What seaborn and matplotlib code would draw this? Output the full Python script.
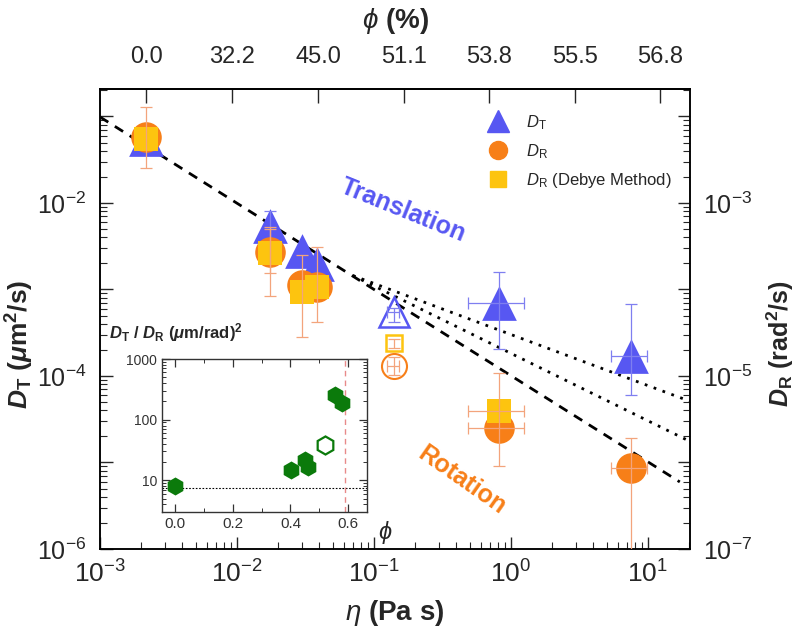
import numpy as np
import matplotlib
matplotlib.use("Agg")
import matplotlib.pyplot as plt
import seaborn as sns
from matplotlib.lines import Line2D
from matplotlib.ticker import LogLocator, NullFormatter, MultipleLocator

# ---- main panel data ----
# viscosity of each filled sample, Pa s (with horizontal error range)
eta = np.array([2.17e-3, 0.0174, 0.0298, 0.0384, 0.816, 7.52])
eta_lo = np.array([2.17e-3, 0.0174, 0.0298, 0.0384, 0.485, 5.37])
eta_hi = np.array([2.17e-3, 0.0174, 0.0298, 0.0384, 1.245, 9.84])

# translational diffusion D_T (um^2/s)
DT = np.array([0.055, 5.4e-3, 2.79e-3, 1.97e-3, 6.98e-4, 1.70e-4])
DT_lo = np.array([0.055, 3.6e-3, 2.79e-3, 1.97e-3, 2.05e-4, 6.0e-5])
DT_hi = np.array([0.055, 8.1e-3, 2.79e-3, 1.97e-3, 1.59e-3, 6.8e-4])

# rotational diffusion D_R (rad^2/s)
DR = np.array([5.8e-3, 2.72e-4, 1.13e-4, 1.07e-4, 2.5e-6, 8.6e-7])
DR_lo = np.array([2.54e-3, 1.55e-4, 1.13e-4, 4.2e-5, 9.1e-7, 1e-8])
DR_hi = np.array([1.29e-2, 5.28e-4, 1.13e-4, 3.10e-4, 1.08e-5, 1.92e-6])

# D_R from the Debye method (no value for the last sample)
DRd = np.array([5.5e-3, 2.64e-4, 9.35e-5, 1.07e-4, 3.9e-6])
DRd_lo = np.array([5.5e-3, 8.4e-5, 2.83e-5, 1.07e-4, 3.9e-6])
DRd_hi = np.array([5.5e-3, 5.0e-4, 2.51e-4, 1.07e-4, 3.9e-6])

# the open (hollow) sample
eta_o, eta_o_lo, eta_o_hi = 0.14, 0.124, 0.152
DT_o, DT_o_lo, DT_o_hi = 5.5e-4, 4.2e-4, 6.1e-4
DRd_o, DRd_o_lo, DRd_o_hi = 2.38e-5, 2.11e-5, 2.68e-5
DR_o, DR_o_lo, DR_o_hi = 1.31e-5, 1.03e-5, 1.66e-5

# Stokes-Einstein line and the two dotted branches
dash_eta = [1e-3, 17.1]
dash_D = [0.0986, 5.96e-6]
dot1_eta = [0.07, 20.3]
dot1_D = [1.45e-3, 5.1e-5]
dot2_eta = [0.07, 20.3]
dot2_D = [1.45e-3, 1.75e-5]

# top axis: volume fraction labels at their viscosities
phi_eta = [2.17e-3, 9.2e-3, 0.039, 0.1656, 0.690, 2.93, 12.2]
phi_labels = ["0.0", "32.2", "45.0", "51.1", "53.8", "55.5", "56.8"]

# ---- inset data ----
phi_in = [0.0, 0.401, 0.449, 0.459, 0.555, 0.578]
ratio_in = [8.2, 15.0, 22.0, 16.6, 254, 185]
phi_in_open = [0.518]
ratio_in_open = [37.9]
ratio_ref = 7.6
phi_rcp = 0.59

blue = "#5757f2"
blue_err = "#7f7ff0"
orange = "#f77f18"
orange_err = "#f3a47c"
yellow = "#fdc40f"
green = "#0b7a0b"

sns.set_theme(style="ticks")
plt.rcParams["font.family"] = ["Liberation Sans", "DejaVu Sans"]
plt.rcParams["mathtext.fontset"] = "custom"
plt.rcParams["mathtext.rm"] = "Liberation Sans"
plt.rcParams["mathtext.it"] = "Liberation Sans:italic"
plt.rcParams["mathtext.bf"] = "Liberation Sans:bold"
plt.rcParams["mathtext.bfit"] = "Liberation Sans:italic:bold"
plt.rcParams["axes.edgecolor"] = "black"
plt.rcParams["axes.linewidth"] = 1.1


def bars(axis, x, y, xlo, xhi, ylo, yhi, color, z):
    x, y = np.asarray(x), np.asarray(y)
    xlo, xhi, ylo, yhi = map(np.asarray, (xlo, xhi, ylo, yhi))
    m = (yhi > y) | (ylo < y)
    if m.any():
        axis.errorbar(x[m], y[m], yerr=[y[m] - ylo[m], yhi[m] - y[m]], fmt="none",
                      ecolor=color, elinewidth=0.9, capsize=4, capthick=0.9, zorder=z)
    m = (xhi > x) | (xlo < x)
    if m.any():
        axis.errorbar(x[m], y[m], xerr=[x[m] - xlo[m], xhi[m] - x[m]], fmt="none",
                      ecolor=color, elinewidth=0.9, capsize=4, capthick=0.9, zorder=z)


fig = plt.figure(figsize=(7.99, 6.27), dpi=100)
ax = fig.add_axes([0.1252, 0.1244, 0.7384, 0.7337])
ax2 = ax.twinx()

ax.set_xscale("log")
ax.set_yscale("log")
ax2.set_yscale("log")
ax.set_xlim(1e-3, 20.3)
ax.set_ylim(1e-6, 0.208)
ax2.set_ylim(1e-7, 0.0208)

# lines
ax.plot(dash_eta, dash_D, color="black", lw=2, dashes=(3.5, 2.8), zorder=2)
ax.plot(dot1_eta, dot1_D, color="black", lw=2, dashes=(1, 2.4), zorder=2)
ax.plot(dot2_eta, dot2_D, color="black", lw=2, dashes=(1, 2.4), zorder=2)

# D_T triangles
sns.scatterplot(x=eta, y=DT, marker="^", s=25 ** 2, color=blue, linewidth=0,
                ax=ax, zorder=3, legend=False)
bars(ax, eta, DT, eta_lo, eta_hi, DT_lo, DT_hi, blue_err, 4)
ax.plot([eta_o], [DT_o], marker="^", ms=21, mfc="none", mec=blue, mew=1.8, ls="none", zorder=3)
bars(ax, [eta_o], [DT_o], [eta_o_lo], [eta_o_hi], [DT_o_lo], [DT_o_hi], blue_err, 4)

# D_R circles and Debye squares
sns.scatterplot(x=eta, y=DR, marker="o", s=22 ** 2, color=orange, linewidth=0,
                ax=ax2, zorder=3, legend=False)
sns.scatterplot(x=eta[:5], y=DRd, marker="s", s=17 ** 2, color=yellow, linewidth=0,
                ax=ax2, zorder=3, legend=False)
bars(ax2, eta, DR, eta_lo, eta_hi, DR_lo, DR_hi, orange_err, 4)
bars(ax2, eta[:5], DRd, eta_lo[:5], eta_hi[:5], DRd_lo, DRd_hi, orange_err, 4)
ax2.plot([eta_o], [DRd_o], marker="s", ms=12, mfc="none", mec=yellow, mew=1.8, ls="none", zorder=3)
ax2.plot([eta_o], [DR_o], marker="o", ms=18, mfc="none", mec=orange, mew=1.5, ls="none", zorder=3)
bars(ax2, [eta_o], [DRd_o], [eta_o], [eta_o], [DRd_o_lo], [DRd_o_hi], orange_err, 4)
bars(ax2, [eta_o], [DR_o], [eta_o_lo], [eta_o_hi], [DR_o_lo], [DR_o_hi], orange_err, 4)

# ticks
ax.set_xticks([1e-3, 1e-2, 1e-1, 1, 10],
              labels=[r"$10^{-3}$", r"$10^{-2}$", r"$10^{-1}$", r"$10^{0}$", r"$10^{1}$"])
ax.xaxis.set_minor_locator(LogLocator(base=10, subs=np.arange(2, 10)))
ax.xaxis.set_minor_formatter(NullFormatter())
ax.set_yticks([1e-6, 1e-5, 1e-4, 1e-3, 1e-2, 1e-1],
              labels=[r"$10^{-6}$", "", r"$10^{-4}$", "", r"$10^{-2}$", ""])
ax.yaxis.set_minor_locator(LogLocator(base=10, subs=np.arange(2, 10)))
ax.yaxis.set_minor_formatter(NullFormatter())
ax2.set_yticks([1e-7, 1e-6, 1e-5, 1e-4, 1e-3, 1e-2],
               labels=[r"$10^{-7}$", "", r"$10^{-5}$", "", r"$10^{-3}$", ""])
ax2.yaxis.set_minor_locator(LogLocator(base=10, subs=np.arange(2, 10)))
ax2.yaxis.set_minor_formatter(NullFormatter())
ax.set_ylim(1e-6, 0.208)
ax2.set_ylim(1e-7, 0.0208)

ax.tick_params(which="both", direction="in", top=False, right=False, labelsize=19)
ax.tick_params(axis="x", which="major", pad=8)
ax.tick_params(axis="y", which="major", labelsize=18, pad=10)
ax2.tick_params(which="both", direction="in", labelsize=18, pad=9)
for a in (ax, ax2):
    a.tick_params(which="major", length=9, width=1)
    a.tick_params(which="minor", length=5, width=0.8)

top = ax.secondary_xaxis("top")
top.set_xticks(phi_eta, labels=phi_labels)
top.minorticks_off()
top.tick_params(which="major", direction="in", length=10, width=1, labelsize=17, pad=15)
top.set_xlabel(r"$\phi$ (%)", fontsize=20, fontweight="bold", labelpad=13)

ax.set_xlabel(r"$\eta$ (Pa s)", fontsize=20, fontweight="bold", labelpad=8)
ax.set_ylabel(r"$\mathbfit{D}_{\mathbf{T}}\ \mathbf{(}\mathbfit{\mu}\mathbf{m}^{\mathbf{2}}\mathbf{/s)}$",
              fontsize=19)
ax.yaxis.set_label_coords(-0.108, 0.446)
ax2.set_ylabel(r"$\mathbfit{D}_{\mathbf{R}}\ \mathbf{(rad}^{\mathbf{2}}\mathbf{/s)}$",
               fontsize=18)
ax2.yaxis.set_label_coords(1.126, 0.446)

ax.text(0.514, 0.737, "Translation", transform=ax.transAxes, rotation=-22,
        color=blue, fontsize=18, fontweight="bold", ha="center", va="center")
ax.text(0.614, 0.15, "Rotation", transform=ax.transAxes, rotation=-35,
        color=orange, fontsize=18, fontweight="bold", ha="center", va="center")

handles = [
    Line2D([], [], marker="^", ms=16, color=blue, ls="none"),
    Line2D([], [], marker="o", ms=13, color=orange, ls="none"),
    Line2D([], [], marker="s", ms=11, color=yellow, ls="none"),
]
labels = [r"$\mathit{D}_\mathrm{T}$", r"$\mathit{D}_\mathrm{R}$", r"$\mathit{D}_\mathrm{R}$ (Debye Method)"]
ax2.legend(handles, labels, loc="upper left", bbox_to_anchor=(0.635, 0.962), frameon=False,
           fontsize=12, handletextpad=0.7, labelspacing=0.6, borderaxespad=0)

# ---- inset ----
ins = fig.add_axes([0.2028, 0.1834, 0.2565, 0.2440])
ins.set_yscale("log")
ins.set_xlim(-0.045, 0.665)
ins.set_ylim(3, 1000)
ins.axhline(ratio_ref, color="black", lw=0.8, ls=(0, (1.5, 1.5)), zorder=1)
ins.axvline(phi_rcp, color="#e88a8a", lw=1.0, ls=(0, (4, 3)), zorder=1)
sns.scatterplot(x=phi_in, y=ratio_in, marker="h", s=13 ** 2, color=green, linewidth=0,
                ax=ins, zorder=3, legend=False)
ins.plot(phi_in_open, ratio_in_open, marker="h", ms=13, mfc="none", mec=green, mew=1.6,
         ls="none", zorder=3)
ins.set_xticks([0.0, 0.2, 0.4, 0.6], labels=["0.0", "0.2", "0.4", "0.6"])
ins.xaxis.set_minor_locator(MultipleLocator(0.1))
ins.set_yticks([10, 100, 1000], labels=["10", "100", "1000"])
ins.yaxis.set_minor_locator(LogLocator(base=10, subs=np.arange(2, 10)))
ins.yaxis.set_minor_formatter(NullFormatter())
ins.tick_params(which="both", direction="in", top=True, right=True, colors="#333333",
                labelsize=11, labelcolor="#333333")
ins.tick_params(which="major", length=6, width=0.9)
ins.tick_params(which="minor", length=3, width=0.7)
ins.tick_params(axis="y", labelsize=10)
for s in ins.spines.values():
    s.set_color("#333333")
    s.set_linewidth(1.0)
fig.text(0.137, 0.452, r"$\mathbfit{D}_{\mathbf{T}}\ \mathbf{/}\ \mathbfit{D}_{\mathbf{R}}\ \mathbf{(}\mathbfit{\mu}\mathbf{m/rad)}^{\mathbf{2}}$",
         fontsize=12, ha="left", va="bottom")
fig.text(0.482, 0.151, r"$\phi$", fontsize=17, ha="center", va="center")

fig.savefig("out.png", dpi=100)
